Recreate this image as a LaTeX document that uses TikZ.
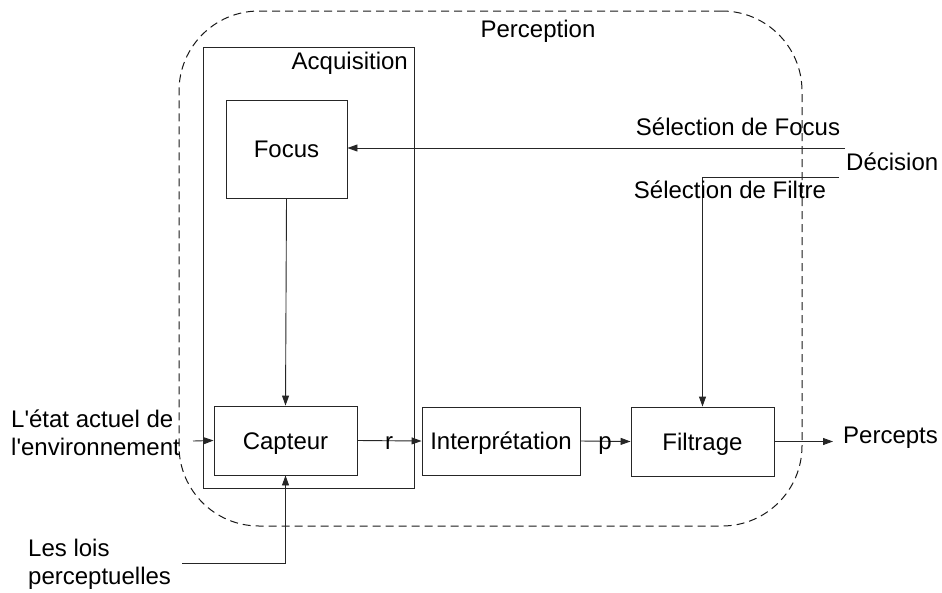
\documentclass[tikz,border=0pt]{standalone}
\usepackage{fontspec}
\setmainfont{Liberation Sans}[Ligatures=TeXOff]
\usetikzlibrary{arrows.meta}
\begin{document}
\begin{tikzpicture}[x=1pt,y=-1pt,
  every node/.style={font=\fontsize{24}{29}\selectfont, inner sep=0pt},
  line/.style={draw=black!85, line width=0.9pt},
  boxnode/.style={line, rectangle, text height=17pt, text depth=0pt},
  arr/.style={line, -{Triangle[length=10pt,width=7pt]}},
  lbl/.style={anchor=base},
]
\useasboundingbox (0,0) rectangle (942,592);
% Perception region
\node[draw=black!90, line width=1pt, dash pattern=on 8pt off 5pt, rounded corners=80pt,
      minimum width=623pt, minimum height=515pt] (perc) at (490.5,268.5) {};
\node[lbl] (perclbl) at (538,37) {Perception};
% Acquisition
\node[boxnode, minimum width=211pt, minimum height=441pt] (acq) at (308.5,267.5) {};
\node[anchor=base east] (acqlbl) at (408,69) {Acquisition};
% Boxes
\node[boxnode, minimum width=121pt, minimum height=98pt] (focus) at (286.5,149) {Focus};
\node[boxnode, minimum width=143pt, minimum height=69pt] (capteur) at (285.5,440.5) {Capteur};
\node[boxnode, minimum width=158pt, minimum height=68pt] (interp) at (501,441) {Interprétation};
\node[boxnode, minimum width=143pt, minimum height=69pt] (filtrage) at (702.5,441.5) {Filtrage};
% Free ends
\coordinate (envin) at (193,441);
\coordinate (loisin) at (182,563);
\coordinate (selfoc) at (845,148);
\coordinate (selfil) at (839,177);
\coordinate (percout) at (833,441.5);
% Connectors
\draw[arr] (focus.south) -- (capteur.north);
\draw[arr] (capteur.east) -- (interp.west);
\draw[arr] (interp.east) -- (filtrage.west);
\draw[arr] (filtrage.east) -- (percout);
\draw[arr] (envin) -- (capteur.west);
\draw[arr] (loisin) -- (loisin -| capteur.south) -- (capteur.south);
\draw[arr] (selfoc) -- (selfoc -| focus.east);
\draw[arr] (selfil) -- (selfil -| filtrage.north) -- (filtrage.north);
% Labels
\node[lbl] (rlbl) at (389,449) {r};
\node[lbl] (plbl) at (605,449) {p};
\node[anchor=base west] (perclab) at (843,443) {Percepts};
\node[lbl] (selfoclbl) at (738,135) {Sélection de Focus};
\node[anchor=base west] (declbl) at (846,170) {Décision};
\node[lbl] (selfillbl) at (730,198) {Sélection de Filtre};
\node[anchor=base west] (envlbl) at (11,427) {L'état actuel de};
\node[anchor=base west] (envlbl2) at (11,455) {l'environnement};
\node[anchor=base west] (loislbl) at (28,556) {Les lois};
\node[anchor=base west] (loislbl2) at (28,584) {perceptuelles};
\end{tikzpicture}
\end{document}
